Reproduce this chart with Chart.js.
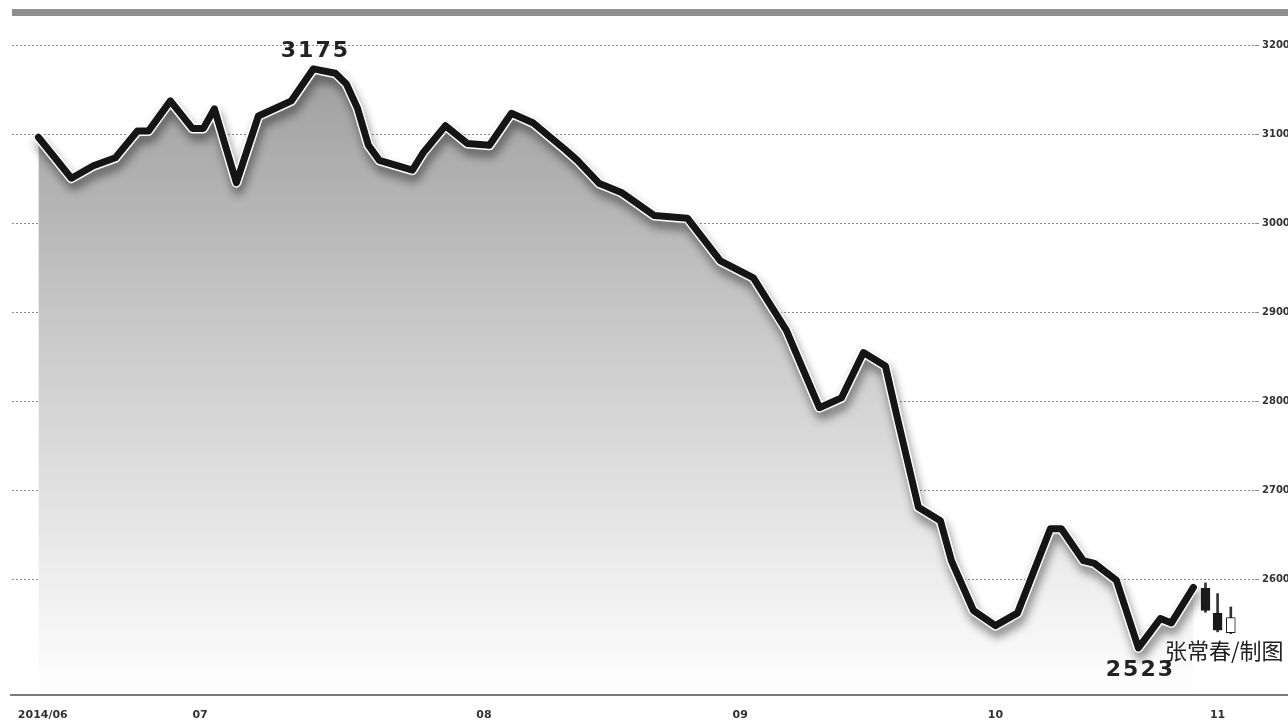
<!DOCTYPE html>
<html>
<head>
<meta charset="utf-8">
<script src="https://cdn.jsdelivr.net/npm/chart.js@4"></script>
<style>
  html, body { margin: 0; padding: 0; background: #fff; overflow: hidden; }
  #wrap { position: relative; width: 1300px; height: 720px; }
  #credit {
    position: absolute; left: 1165px; top: 636px;
    font-family: "Noto Sans CJK SC", sans-serif; font-size: 22px; color: #222;
    white-space: nowrap; line-height: 26px;
  }
</style>
</head>
<body>
<div id="wrap">
  <canvas id="indexChart" width="1300" height="720"></canvas>
  <div id="credit">张常春/制图</div>
</div>
<script>
// Trading-day position of each turning point of the index line
const days = [0, 3, 5, 7, 9, 10, 12, 14, 15, 16, 18, 20, 23, 25, 27, 28, 29, 30, 31, 34,
  35, 37, 39, 41, 43, 45, 48, 49, 51, 53, 56, 59, 62, 65, 68, 71, 73, 75, 77, 78,
  80, 82, 83, 85, 87, 89, 92, 93, 95, 96, 98, 100, 102, 103, 105];

// Closing level at those points
const closes = [3097, 3051, 3065, 3074, 3104, 3104, 3138, 3107, 3107, 3129, 3046, 3121, 3138, 3174, 3169, 3157, 3130, 3088, 3071, 3060,
  3080, 3110, 3090, 3088, 3124, 3113, 3082, 3071, 3045, 3035, 3009, 3006, 2958, 2939, 2880, 2793, 2804, 2855, 2840, 2786,
  2681, 2666, 2621, 2565, 2548, 2562, 2657, 2657, 2621, 2618, 2599, 2523, 2556, 2551, 2591];

// Last three sessions drawn as candles
const candleDays = [106.1, 107.2, 108.4];
const candleOpen = [2590, 2562, 2540];
const candleClose = [2565, 2543, 2557];
const candleHigh = [2596, 2584, 2569];
const candleLow = [2563, 2541, 2539];

// Axis ticks
const yTicks = [2600, 2700, 2800, 2900, 3000, 3100, 3200];
const xTickDays = [0.4, 14.7, 40.5, 63.8, 87, 107.2];
const xTickLabels = ['2014/06', '07', '08', '09', '10', '11'];

// Marked extremes
const peakDay = 25, peakLabel = '3175';
const troughDay = 100, troughLabel = '2523';

const linePoints = days.map((d, i) => ({ x: d, y: closes[i] }));

// grey top rule, long bottom axis, shadow on the line, extreme labels
const decorPlugin = {
  id: 'decor',
  beforeDraw(chart) {
    const ctx = chart.ctx;
    ctx.save();
    ctx.fillStyle = '#8e8e8e';
    ctx.fillRect(12, 9, chart.width, 7);
    ctx.restore();
  },
  beforeDatasetDraw(chart, args) {
    if (args.index === 1) {
      const ctx = chart.ctx;
      ctx.save();
      ctx.shadowColor = 'rgba(0,0,0,0.45)';
      ctx.shadowBlur = 10;
      ctx.shadowOffsetX = 2;
      ctx.shadowOffsetY = 7;
    }
  },
  afterDatasetDraw(chart, args) {
    if (args.index === 1) chart.ctx.restore();
  },
  afterDraw(chart) {
    const ctx = chart.ctx;
    const x = chart.scales.x, y = chart.scales.y;
    ctx.save();
    // bottom axis line runs to the page edge
    ctx.strokeStyle = '#7a7a7a';
    ctx.lineWidth = 2;
    ctx.beginPath();
    ctx.moveTo(10, chart.chartArea.bottom);
    ctx.lineTo(chart.width, chart.chartArea.bottom);
    ctx.stroke();

    ctx.fillStyle = '#222';
    ctx.font = 'bold 22px "DejaVu Sans"';
    ctx.letterSpacing = '2px';
    ctx.textAlign = 'center';
    ctx.textBaseline = 'middle';
    const pi = days.indexOf(peakDay);
    ctx.fillText(peakLabel, x.getPixelForValue(peakDay) + 2, y.getPixelForValue(closes[pi]) - 18);
    const ti = days.indexOf(troughDay);
    ctx.fillText(troughLabel, x.getPixelForValue(troughDay) + 2, y.getPixelForValue(closes[ti]) + 22);
    ctx.restore();
  }
};

const ctx = document.getElementById('indexChart').getContext('2d');
new Chart(ctx, {
  data: {
    datasets: [
      {
        // grey area under the line
        type: 'line',
        data: linePoints,
        borderWidth: 0,
        pointRadius: 0,
        fill: 'start',
        backgroundColor: function (context) {
          const area = context.chart.chartArea;
          if (!area) return '#bbb';
          const g = context.chart.ctx.createLinearGradient(0, area.top, 0, area.bottom);
          g.addColorStop(0, '#979797');
          g.addColorStop(0.45, '#c8c8c8');
          g.addColorStop(1, '#ffffff');
          return g;
        },
        order: 5
      },
      {
        // white edge with drop shadow
        type: 'line',
        data: linePoints,
        borderColor: '#ffffff',
        borderWidth: 10,
        borderJoinStyle: 'round',
        borderCapStyle: 'round',
        pointRadius: 0,
        fill: false,
        order: 4
      },
      {
        type: 'line',
        data: linePoints,
        borderColor: '#151515',
        borderWidth: 7,
        borderJoinStyle: 'round',
        borderCapStyle: 'round',
        pointRadius: 0,
        fill: false,
        order: 3
      },
      {
        // candle wicks
        type: 'bar',
        data: candleDays.map((d, i) => ({ x: d, y: [candleLow[i], candleHigh[i]] })),
        backgroundColor: '#333',
        barThickness: 2,
        grouped: false,
        order: 2
      },
      {
        // candle bodies
        type: 'bar',
        data: candleDays.map((d, i) => ({ x: d, y: [candleOpen[i], candleClose[i]] })),
        backgroundColor: candleDays.map((d, i) => candleClose[i] < candleOpen[i] ? '#1a1a1a' : '#ffffff'),
        borderColor: '#1a1a1a',
        borderWidth: 1,
        borderSkipped: false,
        barThickness: 9,
        grouped: false,
        order: 1
      }
    ]
  },
  options: {
    responsive: false,
    animation: false,
    layout: { padding: { left: 12, top: 19, right: 0, bottom: 0 } },
    plugins: {
      legend: { display: false },
      tooltip: { enabled: false }
    },
    scales: {
      x: {
        type: 'linear',
        min: -2.4,
        max: 110.6,
        offset: false,
        grid: { display: false, offset: false },
        border: { display: false },
        afterBuildTicks: function (scale) {
          scale.ticks = xTickDays.map(v => ({ value: v }));
        },
        afterFit: function (scale) { scale.height = 25; },
        ticks: {
          autoSkip: false,
          maxRotation: 0,
          padding: 6,
          color: '#333',
          font: { family: 'DejaVu Sans', size: 11, weight: 'bold' },
          callback: function (value, index) { return xTickLabels[index]; }
        }
      },
      y: {
        position: 'right',
        min: 2470,
        max: 3230,
        border: { display: false, dash: [2, 2] },
        grid: {
          color: '#8a8a8a',
          lineWidth: 1,
          tickLength: 4
        },
        afterBuildTicks: function (scale) {
          scale.ticks = yTicks.map(v => ({ value: v }));
        },
        afterFit: function (scale) { scale.width = 45; },
        ticks: {
          padding: 3,
          color: '#333',
          font: { family: 'DejaVu Sans', size: 10, weight: 'bold' },
          callback: function (value) { return String(value); }
        }
      }
    }
  },
  plugins: [decorPlugin]
});
</script>
</body>
</html>
